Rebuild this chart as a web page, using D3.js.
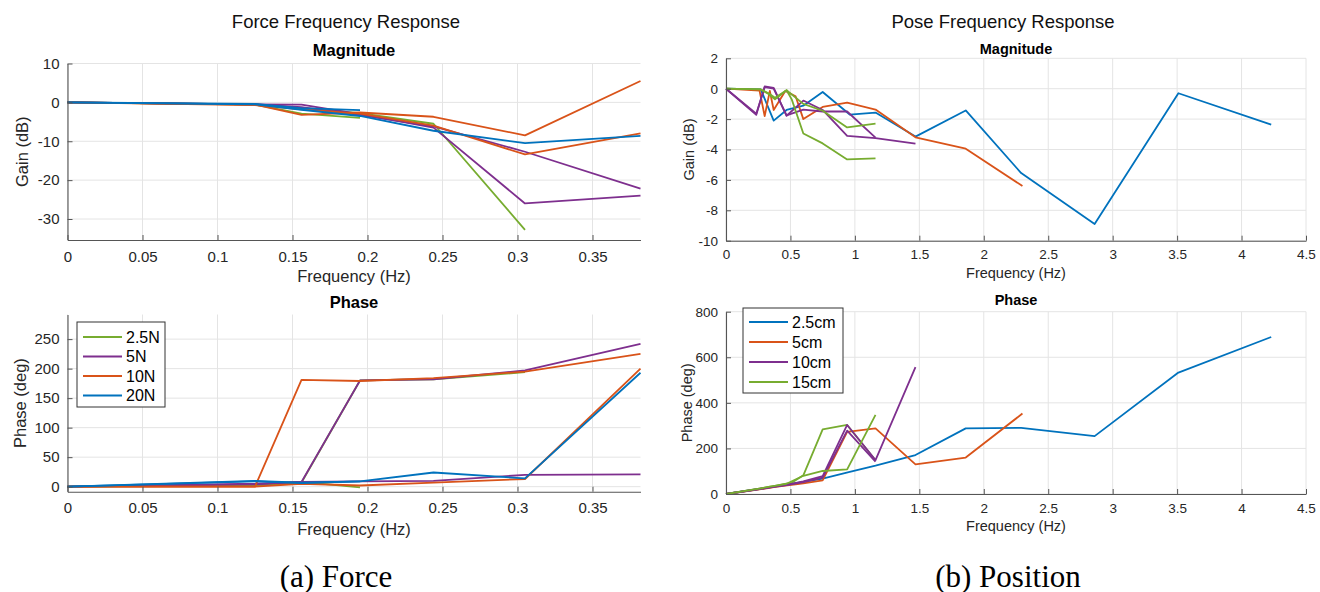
<!DOCTYPE html>
<html>
<head>
<meta charset="utf-8">
<script src="https://cdn.jsdelivr.net/npm/d3@7"></script>
<style>
  html, body { margin: 0; padding: 0; background: #fff; }
  svg { display: block; }
</style>
</head>
<body>
<svg id="fig" width="1320" height="592"></svg>
<script>
// ---------- Force frequency response (two trials per force level) ----------
const forceFreq = [0, 0.125, 0.156, 0.195, 0.244, 0.305, 0.382];

const force25aGain  = [0, -0.6, -2.9, -4.0];
const force25bGain  = [0, -0.5, -1.5, -2.8, -5.5, -32.8];
const force5aGain   = [0, -0.5, -0.6, -3.0, -6.5, -26.0, -24.0];
const force5bGain   = [0, -0.5, -1.2, -3.3, -6.2, -12.7, -22.2];
const force10aGain  = [0, -0.6, -3.2, -2.6, -3.7, -8.5, 5.5];
const force10bGain  = [0, -0.7, -1.8, -2.9, -6.0, -13.4, -8.0];
const force20aGain  = [0, -0.4, -1.5, -2.0];
const force20bGain  = [0, -0.5, -1.9, -3.5, -7.3, -10.5, -8.6];

const force25aPhase = [0, 3, 8, -1];
const force25bPhase = [0, 2, 7, 180, 182, 194];
const force5aPhase  = [0, 4, 8, 180, 182, 197, 242];
const force5bPhase  = [0, 5, 8, 9, 10, 20, 21];
const force10aPhase = [0, 0, 181, 179, 184, 195, 225];
const force10bPhase = [0, 0, 5, 2, 7, 13, 200];
const force20aPhase = [0, 10, 7, 9];
const force20bPhase = [0, 9, 6, 9, 24, 14, 193];

const forceLabels = ["2.5N", "5N", "10N", "20N"];
const forceFreqTicks  = [0, 0.05, 0.1, 0.15, 0.2, 0.25, 0.3, 0.35];
const forceGainTicks  = [-30, -20, -10, 0, 10];
const forcePhaseTicks = [0, 50, 100, 150, 200, 250];

// ---------- Pose frequency response ----------
const pose25Freq   = [0, 0.27, 0.37, 0.47, 0.6, 0.75, 0.96, 1.16, 1.47, 1.86, 2.29, 2.86, 3.51, 4.23];
const pose25Gain   = [0, -0.05, -2.1, -1.4, -1.12, -0.22, -1.7, -1.57, -3.15, -1.43, -5.55, -8.9, -0.3, -2.37];
const pose25Phase  = [0, 23, 32, 41, 53, 68, 97, 124, 171, 288, 290, 254, 533, 689];

const pose5Freq    = [0, 0.26, 0.30, 0.34, 0.37, 0.46, 0.54, 0.6, 0.75, 0.94, 1.16, 1.47, 1.86, 2.3];
const pose5Gain    = [0, -0.12, -1.8, -0.15, -1.4, -0.15, -0.5, -2.0, -1.2, -0.92, -1.37, -3.2, -3.95, -6.4];
const pose5Phase   = [0, 20, 24, 27, 30, 37, 42, 47, 60, 273, 288, 130, 160, 353];

const pose10aFreq  = [0, 0.235, 0.30, 0.37, 0.47, 0.6, 0.75, 0.94, 1.16, 1.47];
const pose10aGain  = [0, -1.72, 0.15, 0.05, -1.78, -0.78, -1.4, -3.1, -3.25, -3.62];
const pose10aPhase = [0, 20, 26, 32, 40, 55, 78, 303, 149, 557];
const pose10bFreq  = [0, 0.235, 0.30, 0.37, 0.47, 0.6, 0.75, 0.94, 1.16];
const pose10bGain  = [0, -1.65, 0.1, 0.0, -1.75, -1.38, -1.5, -1.5, -3.22];
const pose10bPhase = [0, 19, 25, 31, 39, 52, 72, 278, 142];

const pose15aFreq  = [0, 0.27, 0.33, 0.38, 0.47, 0.51, 0.6, 0.75, 0.94, 1.16];
const pose15aGain  = [0, -0.05, -0.35, -0.7, -0.1, -0.7, -2.95, -3.6, -4.65, -4.58];
const pose15aPhase = [0, 25, 31, 36, 45, 49, 82, 284, 303, 148];
const pose15bFreq  = [0, 0.27, 0.33, 0.38, 0.47, 0.6, 0.75, 0.94, 1.16];
const pose15bGain  = [0, -0.05, -0.3, -0.6, -0.1, -1.0, -1.45, -2.55, -2.3];
const pose15bPhase = [0, 25, 31, 36, 45, 80, 101, 108, 347];

const poseLabels = ["2.5cm", "5cm", "10cm", "15cm"];
const poseFreqTicks  = [0, 0.5, 1, 1.5, 2, 2.5, 3, 3.5, 4, 4.5];
const poseGainTicks  = [-10, -8, -6, -4, -2, 0, 2];
const posePhaseTicks = [0, 200, 400, 600, 800];

// MATLAB-style line colours
const C = { blue: "#0072BD", orange: "#D95319", purple: "#7E2F8E", green: "#77AC30" };
const forceColors = [C.green, C.purple, C.orange, C.blue];
const poseColors  = [C.blue, C.orange, C.purple, C.green];

const FONT = "'Liberation Sans', Arial, Helvetica, sans-serif";
const svg = d3.select("#fig");
const fmt = d => String(d);

function drawAxes(cfg) {
  const x = d3.scaleLinear().domain(cfg.xDomain).range([cfg.left, cfg.right]);
  const y = d3.scaleLinear().domain(cfg.yDomain).range([cfg.bottom, cfg.top]);
  const g = svg.append("g");

  // grid
  g.append("g").selectAll("line").data(cfg.xTicks).join("line")
    .attr("x1", d => x(d)).attr("x2", d => x(d))
    .attr("y1", cfg.top).attr("y2", cfg.bottom)
    .attr("stroke", "#e4e4e4").attr("stroke-width", 1);
  g.append("g").selectAll("line").data(cfg.yTicks).join("line")
    .attr("x1", cfg.left).attr("x2", cfg.right)
    .attr("y1", d => y(d)).attr("y2", d => y(d))
    .attr("stroke", "#e4e4e4").attr("stroke-width", 1);

  // data lines
  const line = d3.line().x(d => x(d[0])).y(d => y(d[1]));
  cfg.series.forEach(s => {
    g.append("path")
      .datum(d3.zip(s.f.slice(0, s.v.length), s.v))
      .attr("d", line)
      .attr("fill", "none")
      .attr("stroke", s.color)
      .attr("stroke-width", 1.8)
      .attr("stroke-linejoin", "round");
  });

  // axes (inward ticks, no box)
  const xa = g.append("g").attr("transform", `translate(0,${cfg.bottom})`)
    .call(d3.axisBottom(x).tickValues(cfg.xTicks).tickFormat(fmt)
      .tickSizeInner(-5).tickSizeOuter(0).tickPadding(cfg.xPad));
  const ya = g.append("g").attr("transform", `translate(${cfg.left},0)`)
    .call(d3.axisLeft(y).tickValues(cfg.yTicks).tickFormat(fmt)
      .tickSizeInner(-5).tickSizeOuter(0).tickPadding(8));
  [xa, ya].forEach(a => {
    a.select(".domain").attr("stroke", "#555").attr("stroke-width", 1.1);
    a.selectAll(".tick line").attr("stroke", "#555");
    a.selectAll("text").attr("font-family", FONT).attr("font-size", cfg.tickSize).attr("fill", "#262626");
  });

  // titles / labels
  g.append("text").attr("x", (cfg.left + cfg.right) / 2).attr("y", cfg.titleY)
    .attr("text-anchor", "middle").attr("dominant-baseline", "central")
    .attr("font-family", FONT).attr("font-weight", "bold").attr("font-size", cfg.titleSize)
    .attr("fill", "#000").text(cfg.title);
  g.append("text").attr("x", cfg.xLabelX).attr("y", cfg.xLabelY)
    .attr("text-anchor", "middle").attr("dominant-baseline", "central")
    .attr("font-family", FONT).attr("font-size", cfg.labelSize)
    .attr("fill", "#262626").text(cfg.xLabel);
  g.append("text")
    .attr("transform", `translate(${cfg.yLabelX},${(cfg.top + cfg.bottom) / 2}) rotate(-90)`)
    .attr("text-anchor", "middle").attr("dominant-baseline", "central")
    .attr("font-family", FONT).attr("font-size", cfg.labelSize)
    .attr("fill", "#262626").text(cfg.yLabel);
  return g;
}

function drawLegend(box, labels, colors) {
  const g = svg.append("g");
  g.append("rect").attr("x", box.x).attr("y", box.y).attr("width", box.w).attr("height", box.h)
    .attr("fill", "#fff").attr("stroke", "#333").attr("stroke-width", 1);
  labels.forEach((lab, i) => {
    const yy = box.y + box.first + i * box.step;
    g.append("line").attr("x1", box.x + 6).attr("x2", box.x + 45).attr("y1", yy).attr("y2", yy)
      .attr("stroke", colors[i]).attr("stroke-width", 1.8);
    g.append("text").attr("x", box.x + 49).attr("y", yy).attr("dominant-baseline", "central")
      .attr("font-family", FONT).attr("font-size", 16).attr("fill", "#000").text(lab);
  });
}

function suptitle(txt, x, y) {
  svg.append("text").attr("x", x).attr("y", y).attr("text-anchor", "middle")
    .attr("dominant-baseline", "central").attr("font-family", FONT)
    .attr("font-size", 18.5).attr("fill", "#111").text(txt);
}

function caption(txt, x, y) {
  svg.append("text").attr("x", x).attr("y", y).attr("text-anchor", "middle")
    .attr("dominant-baseline", "central")
    .attr("font-family", "'Liberation Serif', 'DejaVu Serif', serif")
    .attr("font-size", 31).attr("fill", "#000").text(txt);
}

// ---------- left column: force ----------
const forceGainSeries = [
  { f: forceFreq, v: force25aGain, color: C.green },
  { f: forceFreq, v: force25bGain, color: C.green },
  { f: forceFreq, v: force5aGain,  color: C.purple },
  { f: forceFreq, v: force5bGain,  color: C.purple },
  { f: forceFreq, v: force10aGain, color: C.orange },
  { f: forceFreq, v: force10bGain, color: C.orange },
  { f: forceFreq, v: force20aGain, color: C.blue },
  { f: forceFreq, v: force20bGain, color: C.blue }
];
const forcePhaseSeries = [
  { f: forceFreq, v: force25aPhase, color: C.green },
  { f: forceFreq, v: force25bPhase, color: C.green },
  { f: forceFreq, v: force5aPhase,  color: C.purple },
  { f: forceFreq, v: force5bPhase,  color: C.purple },
  { f: forceFreq, v: force10aPhase, color: C.orange },
  { f: forceFreq, v: force10bPhase, color: C.orange },
  { f: forceFreq, v: force20aPhase, color: C.blue },
  { f: forceFreq, v: force20bPhase, color: C.blue }
];

const leftBase = { left: 67.5, right: 640.5, xDomain: [0, 0.382], xTicks: forceFreqTicks,
  tickSize: 15, labelSize: 16.5, titleSize: 16.5, xPad: 11, xLabel: "Frequency (Hz)",
  xLabelX: 354 };

drawAxes(Object.assign({}, leftBase, {
  top: 63.5, bottom: 240, yDomain: [-35.4, 10], yTicks: forceGainTicks,
  series: forceGainSeries, title: "Magnitude", titleY: 50,
  xLabelY: 276, yLabel: "Gain (dB)", yLabelX: 22
}));
drawAxes(Object.assign({}, leftBase, {
  top: 314.5, bottom: 491.7, yDomain: [-8.5, 291.7], yTicks: forcePhaseTicks,
  series: forcePhaseSeries, title: "Phase", titleY: 302,
  xLabelY: 529, yLabel: "Phase (deg)", yLabelX: 20
}));
drawLegend({ x: 77, y: 322, w: 88, h: 85, first: 15, step: 19.5 }, forceLabels, forceColors);
suptitle("Force Frequency Response", 346, 21.5);

// ---------- right column: pose ----------
const poseGainSeries = [
  { f: pose25Freq,  v: pose25Gain,  color: C.blue },
  { f: pose5Freq,   v: pose5Gain,   color: C.orange },
  { f: pose10aFreq, v: pose10aGain, color: C.purple },
  { f: pose10bFreq, v: pose10bGain, color: C.purple },
  { f: pose15aFreq, v: pose15aGain, color: C.green },
  { f: pose15bFreq, v: pose15bGain, color: C.green }
];
const posePhaseSeries = [
  { f: pose25Freq,  v: pose25Phase,  color: C.blue },
  { f: pose5Freq,   v: pose5Phase,   color: C.orange },
  { f: pose15aFreq, v: pose15aPhase, color: C.green },
  { f: pose10aFreq, v: pose10aPhase, color: C.purple },
  { f: pose10bFreq, v: pose10bPhase, color: C.purple },
  { f: pose15bFreq, v: pose15bPhase, color: C.green }
];

const rightBase = { left: 726, right: 1306, xDomain: [0, 4.5], xTicks: poseFreqTicks,
  tickSize: 13.5, labelSize: 14.5, titleSize: 14.5, xPad: 9, xLabel: "Frequency (Hz)",
  xLabelX: 1016 };

drawAxes(Object.assign({}, rightBase, {
  top: 58.3, bottom: 240.7, yDomain: [-10, 2], yTicks: poseGainTicks,
  series: poseGainSeries, title: "Magnitude", titleY: 48.5,
  xLabelY: 273, yLabel: "Gain (dB)", yLabelX: 689
}));
drawAxes(Object.assign({}, rightBase, {
  top: 311.7, bottom: 494, yDomain: [0, 800], yTicks: posePhaseTicks,
  series: posePhaseSeries, title: "Phase", titleY: 300,
  xLabelY: 526, yLabel: "Phase (deg)", yLabelX: 687
}));
drawLegend({ x: 743, y: 308, w: 100, h: 85, first: 14, step: 20 }, poseLabels, poseColors);
suptitle("Pose Frequency Response", 1003, 21.5);

// ---------- sub-figure captions ----------
caption("(a) Force", 336, 576);
caption("(b) Position", 1008, 576);
</script>
</body>
</html>
